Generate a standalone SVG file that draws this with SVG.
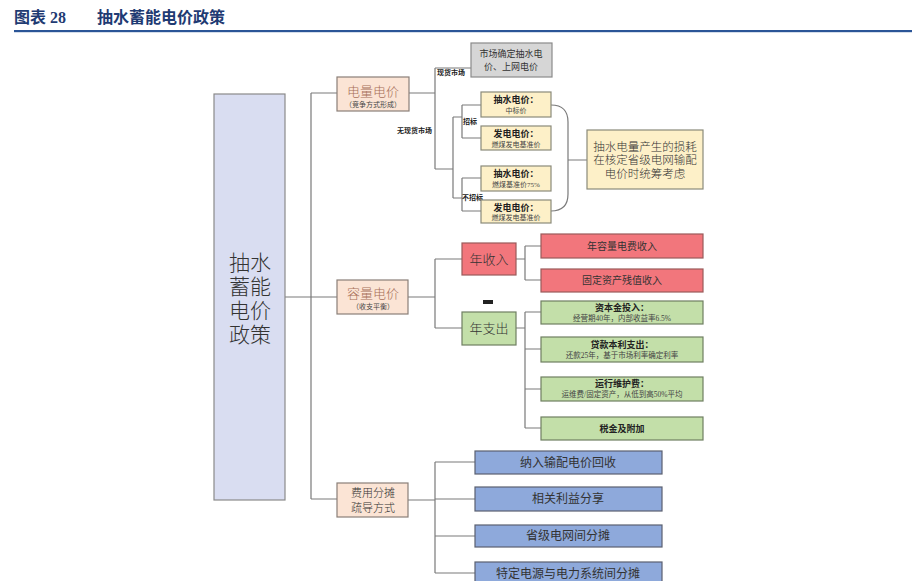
<svg xmlns="http://www.w3.org/2000/svg" width="916" height="581" viewBox="0 0 916 581">
<style>
text{font-family:"Liberation Serif","Noto Sans CJK SC",serif;text-anchor:middle;fill:#333}
.title{font-weight:bold;fill:#1F3B73;text-anchor:start;font-size:16px}
.conn{fill:none;stroke:#7a7a7a;stroke-width:1.2}
.main{fill:#D9DDF1;stroke:#8a8a8a;stroke-width:1.2}
.peach{fill:#FBE4D5;stroke:#8a7f78;stroke-width:1.2}
.gray{fill:#D6D6D6;stroke:#8a8a8a;stroke-width:1.2}
.yel{fill:#FDF0C8;stroke:#8a8a7a;stroke-width:1.2}
.red{fill:#F2767C;stroke:#9a5a5a;stroke-width:1.2}
.grn{fill:#C3DFA9;stroke:#6f7f62;stroke-width:1.2}
.blu{fill:#8EA9DB;stroke:#5a6070;stroke-width:1.2}
.lt{font-weight:300}
.lbl{font-size:7px;font-weight:bold;fill:#222;text-anchor:start}
.b9{font-size:9px;font-weight:bold;fill:#222}
.s7{font-size:7px;fill:#444}
.s8{font-size:7.5px;fill:#444}
.pk{font-size:13px;fill:#A8705A;font-weight:300}
</style>
<text class="title" x="14" y="23">图表 28</text>
<text class="title" x="97" y="23">抽水蓄能电价政策</text>
<rect x="14" y="30" width="898" height="2.2" fill="#2B5597"/>

<g id="connectors">
<path class="conn" d="M285,297 H311 M311,93 V499 M311,93 H337 M311,297 H337 M311,499 H337"/>
<path class="conn" d="M409,93 H435 M435,68 V169 M435,68 H471 M435,169 H453 M453,117 V198 M453,117 H462 M453,198 H462 M462,105 V138 M462,105 H481 M462,138 H481 M462,178 V211 M462,178 H481 M462,211 H481"/>
<path class="conn" d="M551,105 Q568,105 568,122 V194 Q568,211 551,211 M568,160 H587"/>
<path class="conn" d="M408,297 H435 M435,259 V328 M435,259 H462 M435,328 H462"/>
<path class="conn" d="M516,259 H525 M525,246 V280 M525,246 H541 M525,280 H541"/>
<path class="conn" d="M516,328 H525 M525,312 V428 M525,312 H541 M525,349 H541 M525,389 H541 M525,428 H541"/>
<path class="conn" d="M408,500 H435 M435,462 V573 M435,462 H475 M435,499 H475 M435,536 H475 M435,573 H475"/>
</g>

<g id="root">
<rect class="main" x="214" y="94" width="71" height="406"/>
<text class="lt" x="250" y="270" font-size="21" fill="#444">抽水</text>
<text class="lt" x="250" y="294" font-size="21" fill="#444">蓄能</text>
<text class="lt" x="250" y="318" font-size="21" fill="#444">电价</text>
<text class="lt" x="250" y="342" font-size="21" fill="#444">政策</text>
</g>

<g id="energy-price">
<rect class="peach" x="337" y="77" width="72" height="34"/>
<text class="pk" x="373" y="96">电量电价</text>
<text class="s7" x="373" y="107">（竞争方式形成）</text>
</g>
<g id="label-spot"><text class="lbl" x="437" y="75">现货市场</text></g>
<g id="label-nospot"><text class="lbl" x="397" y="133">无现货市场</text></g>
<g id="label-bid"><text class="lbl" x="463" y="124">招标</text></g>
<g id="label-nobid"><text class="lbl" x="462" y="200">不招标</text></g>

<g id="market-price">
<rect class="gray" x="471" y="43" width="81" height="34"/>
<text x="511" y="57" font-size="9" fill="#444">市场确定抽水电</text>
<text x="511" y="70" font-size="9" fill="#444">价、上网电价</text>
</g>
<g id="y1">
<rect class="yel" x="481" y="92" width="70" height="25"/>
<text class="b9" x="516" y="103">抽水电价：</text>
<text class="s7" x="516" y="113">中标价</text>
</g>
<g id="y2">
<rect class="yel" x="481" y="126" width="70" height="24"/>
<text class="b9" x="516" y="137">发电电价：</text>
<text class="s7" x="516" y="147">燃煤发电基准价</text>
</g>
<g id="y3">
<rect class="yel" x="481" y="166" width="70" height="25"/>
<text class="b9" x="516" y="177">抽水电价：</text>
<text class="s7" x="516" y="187">燃煤基准价75%</text>
</g>
<g id="y4">
<rect class="yel" x="481" y="200" width="70" height="23"/>
<text class="b9" x="516" y="211">发电电价：</text>
<text class="s7" x="516" y="220">燃煤发电基准价</text>
</g>
<g id="loss">
<rect class="yel" x="587" y="130" width="116" height="59"/>
<text class="lt" x="645" y="151" font-size="11.5" fill="#6a5a48">抽水电量产生的损耗</text>
<text class="lt" x="645" y="164" font-size="11.5" fill="#6a5a48">在核定省级电网输配</text>
<text class="lt" x="645" y="178" font-size="11.5" fill="#6a5a48">电价时统筹考虑</text>
</g>

<g id="capacity-price">
<rect class="peach" x="337" y="280" width="71" height="34"/>
<text class="pk" x="373" y="298">容量电价</text>
<text class="s7" x="373" y="309">（收支平衡）</text>
</g>
<g id="income">
<rect class="red" x="462" y="243" width="54" height="32"/>
<text class="lt" x="489" y="264" font-size="13" fill="#5a3a3a">年收入</text>
</g>
<g id="r1">
<rect class="red" x="541" y="234" width="162" height="24"/>
<text x="622" y="250" font-size="10" fill="#4a3030">年容量电费收入</text>
</g>
<g id="r2">
<rect class="red" x="541" y="269" width="162" height="23"/>
<text x="622" y="284" font-size="10" fill="#4a3030">固定资产残值收入</text>
</g>
<g id="minus"><rect x="483" y="300" width="10" height="4" fill="#222"/></g>
<g id="expense">
<rect class="grn" x="462" y="312" width="54" height="33"/>
<text class="lt" x="489" y="333" font-size="13" fill="#4a5a40">年支出</text>
</g>
<g id="g1">
<rect class="grn" x="541" y="301" width="162" height="23"/>
<text class="b9" x="622" y="311">资本金投入：</text>
<text class="s8" x="622" y="321">经营期40年，内部收益率6.5%</text>
</g>
<g id="g2">
<rect class="grn" x="541" y="337" width="162" height="25"/>
<text class="b9" x="622" y="348">贷款本利支出：</text>
<text class="s8" x="622" y="358">还款25年，基于市场利率确定利率</text>
</g>
<g id="g3">
<rect class="grn" x="541" y="377" width="162" height="24"/>
<text class="b9" x="622" y="387">运行维护费：</text>
<text class="s8" x="622" y="397">运维费/固定资产，从低到高50%平均</text>
</g>
<g id="g4">
<rect class="grn" x="541" y="417" width="162" height="23"/>
<text class="b9" x="622" y="432">税金及附加</text>
</g>

<g id="cost-share">
<rect class="peach" x="337" y="483" width="71" height="34"/>
<text class="lt" x="373" y="497" font-size="11" fill="#A8705A">费用分摊</text>
<text class="lt" x="373" y="512" font-size="11" fill="#A8705A">疏导方式</text>
</g>
<g id="b1">
<rect class="blu" x="475" y="451" width="187" height="23"/>
<text x="568" y="467" font-size="12">纳入输配电价回收</text>
</g>
<g id="b2">
<rect class="blu" x="475" y="487" width="187" height="24"/>
<text x="568" y="503" font-size="12">相关利益分享</text>
</g>
<g id="b3">
<rect class="blu" x="475" y="525" width="187" height="22"/>
<text x="568" y="540" font-size="12">省级电网间分摊</text>
</g>
<g id="b4">
<rect class="blu" x="475" y="562" width="187" height="24"/>
<text x="568" y="578" font-size="12">特定电源与电力系统间分摊</text>
</g>
</svg>
